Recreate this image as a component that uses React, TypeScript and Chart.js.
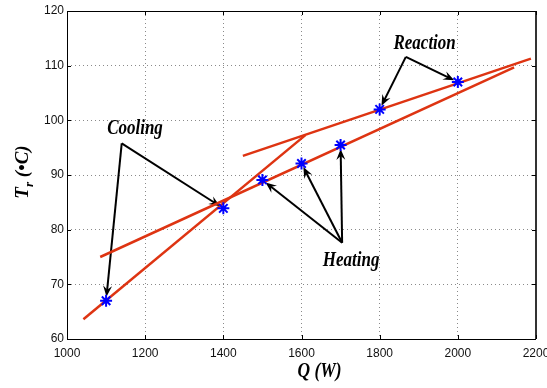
import React, { useEffect, useRef } from "react";
import { Chart, registerables } from "chart.js";

Chart.register(...registerables);

// Measured points (Q in W, Tr in °C)
const pointQ = [1100, 1400, 1500, 1600, 1700, 1800, 2000];
const pointT = [67, 83.9, 89.1, 92.1, 95.5, 102, 107];

// Red fitted segments (endpoints)
const lineAQ = [1042, 1610];
const lineAT = [63.6, 97.3];
const lineBQ = [1085, 2144];
const lineBT = [75, 109.7];
const lineCQ = [1450, 2187];
const lineCT = [93.5, 111.3];

// Annotations
const annText = ["Cooling", "Reaction", "Heating"];
const annTextQ = [1174, 1915, 1727];
const annTextT = [98.4, 114, 74.3];
const annVertexQ = [1140, 1867, 1704];
const annVertexT = [95.8, 111.6, 77.6];
const annTargets = [[0, 1], [5, 6], [2, 3, 4]];

// Axis config
const xMin = 1000;
const xMax = 2200;
const xStep = 200;
const yMin = 60;
const yMax = 120;
const yStep = 10;
const xTitle = "Q (W)";
const yTitleMain = "T";
const yTitleSub = "r";
const yTitleRest = " (\u2022C)";

const RED = "rgb(222,52,18)";
const SERIF = '"Liberation Serif", "Times New Roman", serif';
const SANS = '"Liberation Sans", Arial, sans-serif';

function toXY(qs: number[], ts: number[]) {
  return qs.map((q, i) => ({ x: q, y: ts[i] }));
}

function drawArrow(ctx: CanvasRenderingContext2D, x0: number, y0: number, x1: number, y1: number) {
  const dx = x1 - x0;
  const dy = y1 - y0;
  const len = Math.hypot(dx, dy);
  const ux = dx / len;
  const uy = dy / len;
  const shorten = 4;
  const tx = x1 - ux * shorten;
  const ty = y1 - uy * shorten;
  ctx.beginPath();
  ctx.moveTo(x0, y0);
  ctx.lineTo(tx - ux * 5, ty - uy * 5);
  ctx.stroke();
  const hl = 11;
  const hw = 4.5;
  const px = -uy;
  const py = ux;
  ctx.beginPath();
  ctx.moveTo(tx, ty);
  ctx.lineTo(tx - ux * hl + px * hw, ty - uy * hl + py * hw);
  ctx.lineTo(tx - ux * (hl - 4), ty - uy * (hl - 4));
  ctx.lineTo(tx - ux * hl - px * hw, ty - uy * hl - py * hw);
  ctx.closePath();
  ctx.fill();
}

const decorPlugin = {
  id: "decor",
  beforeDatasetsDraw(chart: any) {
    const ctx: CanvasRenderingContext2D = chart.ctx;
    const xs = chart.scales.x;
    const ys = chart.scales.y;
    ctx.save();
    ctx.strokeStyle = "#000";
    ctx.fillStyle = "#000";
    ctx.lineWidth = 2;
    ctx.lineCap = "butt";
    annTargets.forEach((targets, k) => {
      const vx = xs.getPixelForValue(annVertexQ[k]);
      const vy = ys.getPixelForValue(annVertexT[k]);
      targets.forEach((ti) => {
        const px = xs.getPixelForValue(pointQ[ti]);
        const py = ys.getPixelForValue(pointT[ti]);
        drawArrow(ctx, vx, vy, px, py);
      });
    });
    ctx.restore();
  },
  afterDraw(chart: any) {
    const ctx: CanvasRenderingContext2D = chart.ctx;
    const xs = chart.scales.x;
    const ys = chart.scales.y;
    const a = chart.chartArea;
    ctx.save();
    // annotation texts
    ctx.fillStyle = "#000";
    ctx.textAlign = "center";
    ctx.textBaseline = "middle";
    ctx.font = `italic bold 20px ${SERIF}`;
    annText.forEach((t, k) => {
      const x = xs.getPixelForValue(annTextQ[k]);
      const y = ys.getPixelForValue(annTextT[k]);
      ctx.save();
      ctx.translate(x, y);
      ctx.scale(0.85, 1);
      ctx.fillText(t, 0, 0);
      ctx.restore();
    });
    // frame
    ctx.strokeStyle = "#000";
    ctx.lineWidth = 1;
    ctx.strokeRect(a.left + 0.5, a.top + 0.5, a.right - a.left - 1, a.bottom - a.top);
    ctx.strokeStyle = "#333";
    ctx.lineWidth = 2;
    ctx.beginPath();
    ctx.moveTo(a.right, a.top);
    ctx.lineTo(a.right, a.bottom);
    ctx.stroke();
    // inner ticks
    ctx.strokeStyle = "#000";
    ctx.lineWidth = 1;
    ctx.beginPath();
    xs.ticks.forEach((t: any) => {
      const x = Math.round(xs.getPixelForValue(t.value)) + 0.5;
      ctx.moveTo(x, a.bottom);
      ctx.lineTo(x, a.bottom - 4);
      ctx.moveTo(x, a.top);
      ctx.lineTo(x, a.top + 4);
    });
    ys.ticks.forEach((t: any) => {
      const y = Math.round(ys.getPixelForValue(t.value)) + 0.5;
      ctx.moveTo(a.left, y);
      ctx.lineTo(a.left + 4, y);
      ctx.moveTo(a.right, y);
      ctx.lineTo(a.right - 4, y);
    });
    ctx.stroke();
    // x title
    ctx.font = `italic bold 20px ${SERIF}`;
    ctx.textAlign = "center";
    ctx.textBaseline = "alphabetic";
    ctx.save();
    ctx.translate((a.left + a.right) / 2 + 18, 377);
    ctx.scale(0.87, 1);
    ctx.fillText(xTitle, 0, 0);
    ctx.restore();
    // y title (rotated)
    ctx.save();
    ctx.translate(28, (a.top + a.bottom) / 2 - 3);
    ctx.rotate(-Math.PI / 2);
    ctx.textAlign = "left";
    const mainFont = `italic bold 19px ${SERIF}`;
    const subFont = `italic bold 13px ${SERIF}`;
    ctx.font = mainFont;
    const w1 = ctx.measureText(yTitleMain).width;
    const w3 = ctx.measureText(yTitleRest).width;
    ctx.font = subFont;
    const w2 = ctx.measureText(yTitleSub).width;
    let x = -(w1 + w2 + w3) / 2;
    ctx.font = mainFont;
    ctx.fillText(yTitleMain, x, 0);
    x += w1;
    ctx.font = subFont;
    ctx.fillText(yTitleSub, x, 5);
    x += w2;
    ctx.font = mainFont;
    ctx.fillText(yTitleRest, x, 0);
    ctx.restore();
    ctx.restore();
  },
};

export default function App() {
  const ref = useRef<HTMLCanvasElement>(null);
  useEffect(() => {
    if (!ref.current) return;
    const lineDs = (qs: number[], ts: number[]) => ({
      data: toXY(qs, ts),
      showLine: true,
      borderColor: RED,
      backgroundColor: RED,
      borderWidth: 2.5,
      pointRadius: 0,
      fill: false,
    });
    const chart = new Chart(ref.current, {
      type: "scatter",
      data: {
        datasets: [
          {
            data: toXY(pointQ, pointT),
            showLine: false,
            pointStyle: "star",
            pointRadius: 6,
            borderColor: "#0000ff",
            backgroundColor: "#0000ff",
            borderWidth: 2,
          } as any,
          lineDs(lineAQ, lineAT),
          lineDs(lineBQ, lineBT),
          lineDs(lineCQ, lineCT),
        ],
      },
      options: {
        animation: false,
        responsive: false,
        maintainAspectRatio: false,
        layout: { padding: { top: 11, right: 11, left: 0, bottom: 0 } },
        plugins: {
          legend: { display: false },
          tooltip: { enabled: false },
          title: { display: false },
        },
        scales: {
          x: {
            type: "linear",
            min: xMin,
            max: xMax,
            ticks: {
              stepSize: xStep,
              padding: 7,
              color: "#111",
              font: { family: SANS, size: 12 },
              maxRotation: 0,
              autoSkip: false,
              callback: (v: any) => String(v),
            },
            grid: {
              drawTicks: false,
              color: "#8a8a8a",
              lineWidth: 1,
            },
            border: { display: false, dash: [1, 3] },
            afterFit: (s: any) => {
              s.height = 49;
              s.paddingLeft = 0;
              s.paddingRight = 0;
            },
          },
          y: {
            type: "linear",
            min: yMin,
            max: yMax,
            ticks: {
              stepSize: yStep,
              padding: 3,
              color: "#111",
              font: { family: SANS, size: 12 },
              callback: (v: any) => String(v),
            },
            grid: {
              drawTicks: false,
              color: "#8a8a8a",
              lineWidth: 1,
            },
            border: { display: false, dash: [1, 3] },
            afterFit: (s: any) => {
              s.width = 67;
              s.paddingTop = 0;
              s.paddingBottom = 0;
            },
          },
        },
      },
      plugins: [decorPlugin],
    } as any);
    return () => chart.destroy();
  }, []);
  return (
    <div style={{ position: "fixed", left: 0, top: 0, width: 547, height: 388, background: "#fff" }}>
      <canvas ref={ref} width={547} height={388} style={{ display: "block" }} />
    </div>
  );
}
